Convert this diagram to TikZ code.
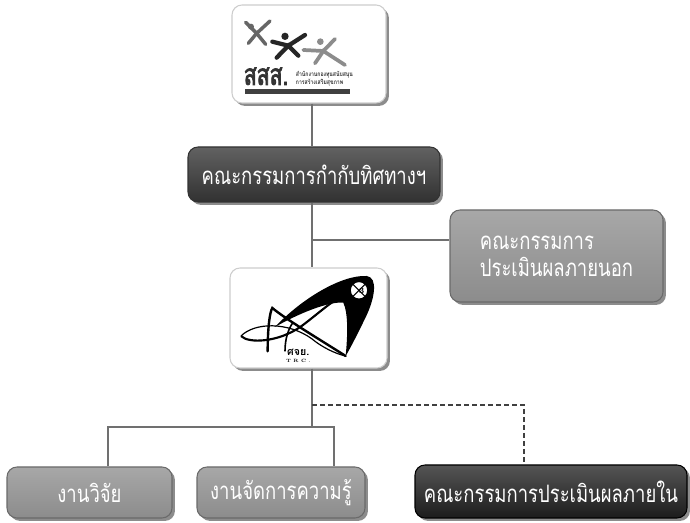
\documentclass[tikz,border=0pt]{standalone}
\usepackage{fontspec}
\newfontfamily\thai[Script=Thai]{Loma}
\newfontfamily\thaiN[Script=Thai,FakeStretch=0.77]{Loma}
\newfontfamily\thaiC[Script=Thai,FakeStretch=0.8]{Loma}
\newfontfamily\thaiB[Script=Thai,FakeStretch=0.72,FakeBold=2.5]{Loma}
\usetikzlibrary{shadows,calc}
\definecolor{linegray}{RGB}{112,112,112}
\definecolor{darkbox}{RGB}{58,58,58}
\definecolor{blackbox}{RGB}{28,28,28}
\definecolor{midbox}{RGB}{152,152,152}
\definecolor{logoedge}{RGB}{205,205,205}
\begin{document}
\begin{tikzpicture}[x=0.75pt,y=-0.75pt,
  shadowed/.style={drop shadow={shadow xshift=2.2pt,shadow yshift=-2.2pt,opacity=0.45,fill=black}},
  box/.style={rounded corners=7.5pt, line width=0.8pt, inner sep=0pt, shadowed},
  darkstyle/.style={box, draw=black!80, top color=darkbox!80!white, bottom color=darkbox!85!black, text=white},
  blackstyle/.style={box, draw=black, top color=blackbox!75!white, bottom color=blackbox, text=white},
  midstyle/.style={box, draw=midbox!70!black, top color=midbox!85!white, bottom color=midbox!92!black, text=white},
  logostyle/.style={box, draw=logoedge, fill=white},
  label/.style={font=\thaiN\fontsize{18}{20}\selectfont},
  conn/.style={draw=linegray, line width=1.5pt},
  dashconn/.style={draw=black!75, line width=0.9pt, dash pattern=on 3.5pt off 2.5pt},
  fig/.style={line width=2.4pt, line cap=round}
]
\useasboundingbox (0,0) rectangle (690,523);
\fill[white] (0,0) rectangle (690,523);

% ---- nodes ----
\node[logostyle, minimum width=154*0.75pt, minimum height=98*0.75pt] (logo1) at (309,54) {};
\node[darkstyle, label, minimum width=252*0.75pt, minimum height=55*0.75pt] (ctrl) at (314,174.5) {คณะกรรมการกำกับทิศทางฯ};
\node[midstyle, label, align=left, minimum width=213*0.75pt, minimum height=92*0.75pt] (ext) at (556.5,256) {คณะกรรมการ\\[0pt]ประเมินผลภายนอก};
\node[logostyle, minimum width=157*0.75pt, minimum height=100*0.75pt] (logo2) at (308.5,318) {};
\node[midstyle, label, minimum width=165*0.75pt, minimum height=51*0.75pt] (res) at (89.5,492.5) {งานวิจัย};
\node[midstyle, label, minimum width=168*0.75pt, minimum height=51*0.75pt] (km) at (281,492.5) {งานจัดการความรู้};
\node[blackstyle, label, minimum width=272*0.75pt, minimum height=53*0.75pt] (inner) at (551,491.5) {คณะกรรมการประเมินผลภายใน};

% ---- connectors ----
\coordinate (spine) at (312,0);
\coordinate (j1) at (312,240);
\coordinate (j2) at (312,427);
\coordinate (resdrop) at (108,427);
\coordinate (kmdrop) at (334,427);
\coordinate (d1) at (312,405);
\coordinate (d2) at (524,405);
\draw[conn] (logo1.south -| spine) -- (ctrl.north -| spine);
\draw[conn] (ctrl.south -| spine) -- (logo2.north -| spine);
\draw[conn] (j1) -- (j1 -| ext.west);
\draw[conn] (logo2.south -| spine) -- (j2);
\draw[conn] (resdrop |- res.north) -- (resdrop) -- (kmdrop) -- (kmdrop |- km.north);
\draw[dashconn] (d1) -- (d2) -- (d2 |- inner.north);

% ---- logo 1 (sss) ----
\begin{scope}[shift={(235,15)}, scale=1/3]
  % figure 1
  \draw[fig, black!60, line width=2.6pt] (32,22) -- (65,55) -- (92,88);
  \draw[fig, black!60, line width=2.6pt] (105,18) -- (65,55) -- (40,85);
  \fill[black!60] (48,35) circle (9);
  % figure 2
  \draw[fig, black!85, line width=3.2pt] (112,80) -- (160,92) -- (210,60);
  \draw[fig, black!85, line width=3.2pt] (125,128) -- (160,92) -- (190,122);
  \fill[black!85] (150,64) circle (11);
  % figure 3
  \draw[fig, black!45, line width=2.8pt] (205,105) -- (265,108) -- (300,72);
  \draw[fig, black!45, line width=2.8pt] (240,145) -- (265,108) -- (330,150);
  \fill[black!45] (256,80) circle (10);
  % text
  \node[font=\thaiB\fontsize{22}{22}\selectfont, text=black!80, inner sep=0pt, anchor=west] (sss) at (26,184) {สสส.};
  \node[font=\thaiC\bfseries\fontsize{4.8}{6.2}\selectfont, text=black!80, inner sep=0pt, align=left, anchor=west] (ssst) at (182,192) {สำนักงานกองทุนสนับสนุน\\การสร้างเสริมสุขภาพ};
  \fill[black!75] (30,222) rectangle (345,236);
\end{scope}

% ---- logo 2 (TRC) ----
\begin{scope}[shift={(235,272)}, scale=1/3]
  \fill[black] (120,165) .. controls (200,80) and (320,8) .. (395,12)
     .. controls (430,16) and (420,80) .. (390,140)
     .. controls (368,185) and (348,225) .. (332,252)
     .. controls (338,190) and (340,125) .. (325,92)
     .. controls (280,88) and (190,125) .. (120,165) -- cycle;
  \draw[black, line width=1.8pt, line cap=round] (98,238) .. controls (98,170) and (104,120) .. (112,108)
     .. controls (150,140) and (250,200) .. (332,252);
  \draw[black, line width=0.9pt] (18,192) .. controls (60,150) and (160,150) .. (230,200)
     .. controls (260,225) and (300,245) .. (332,252);
  \draw[black, line width=1.6pt] (18,192) .. controls (40,215) and (130,212) .. (200,162)
     .. controls (240,132) and (270,105) .. (300,85);
  \draw[black, line width=1.2pt] (150,238) .. controls (150,200) and (160,170) .. (175,150);
  \filldraw[fill=white, draw=black, line width=1.2pt] (372,55) circle (27);
  \draw[black, line width=0.8pt] (352,35) -- (392,75) (392,35) -- (352,75);
  \node[font=\fontsize{6}{6}\selectfont\bfseries, inner sep=0pt] (three) at (380,58) {3};
  \node[font=\thai\bfseries\fontsize{8}{8}\selectfont, inner sep=0pt] (sjy) at (190,240) {ศจย.};
  \node[font=\bfseries\fontsize{3.5}{4}\selectfont, inner sep=0pt] (trc) at (190,268) {T R C .};
\end{scope}
\end{tikzpicture}
\end{document}
